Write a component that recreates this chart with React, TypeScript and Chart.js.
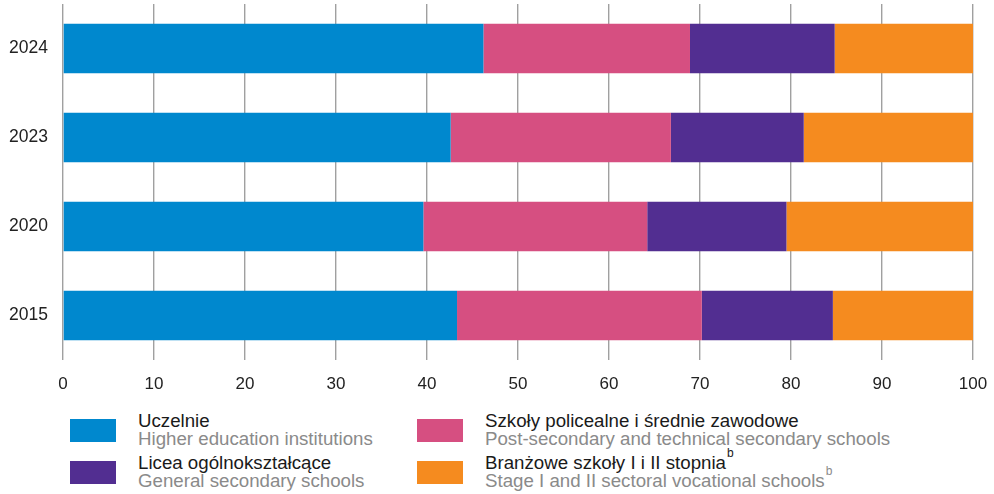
import React, { useEffect, useRef } from "react";
import { Chart, registerables } from "chart.js";

Chart.register(...registerables);

const years = ["2024", "2023", "2020", "2015"];
const uczelnie = [46.2, 42.6, 39.6, 43.3];
const policealne = [22.7, 24.2, 24.6, 26.9];
const licea = [15.9, 14.6, 15.3, 14.4];
const branzowe = [15.2, 18.6, 20.5, 15.4];
const xTicks = [0, 10, 20, 30, 40, 50, 60, 70, 80, 90, 100];

const seriesNames = [
  { pl: "Uczelnie", en: "Higher education institutions", sup: false },
  { pl: "Szkoły policealne i średnie zawodowe", en: "Post-secondary and technical secondary schools", sup: false },
  { pl: "Licea ogólnokształcące", en: "General secondary schools", sup: false },
  { pl: "Branżowe szkoły I i II stopnia", en: "Stage I and II sectoral vocational schools", sup: true },
];
const colors = ["#0088CE", "#D64F81", "#522E91", "#F58B1F"];

const FONT = "'Liberation Sans', Arial, Helvetica, sans-serif";

const supStyle: React.CSSProperties = {
  fontSize: 12,
  verticalAlign: "top",
  position: "relative",
  top: -7,
  marginLeft: 1,
  lineHeight: "12px",
};

function LegendItem({ idx, left, top }: { idx: number; left: number; top: number }) {
  const s = seriesNames[idx];
  return (
    <>
      <div
        style={{
          position: "absolute",
          left,
          top: top + 7,
          width: 46,
          height: 23,
          background: colors[idx],
        }}
      />
      <div
        style={{
          position: "absolute",
          left: left + 68,
          top,
          fontFamily: FONT,
          fontSize: 18.7,
          lineHeight: "18px",
          whiteSpace: "nowrap",
        }}
      >
        <div style={{ color: "#1a1a1a" }}>
          {s.pl}
          {s.sup && <sup style={supStyle}>b</sup>}
        </div>
        <div style={{ color: "#8a8a8a" }}>
          {s.en}
          {s.sup && <sup style={supStyle}>b</sup>}
        </div>
      </div>
    </>
  );
}

export default function App() {
  const ref = useRef<HTMLCanvasElement | null>(null);

  useEffect(() => {
    if (!ref.current) return;
    const data = [uczelnie, policealne, licea, branzowe];
    const chart = new Chart(ref.current, {
      type: "bar",
      data: {
        labels: years,
        datasets: seriesNames.map((s, i) => ({
          label: s.pl,
          data: data[i],
          backgroundColor: colors[i],
          borderWidth: 0,
          barPercentage: 0.556,
          categoryPercentage: 1,
        })),
      },
      options: {
        indexAxis: "y",
        animation: false,
        responsive: false,
        devicePixelRatio: 1,
        layout: { padding: { left: 0, right: 21, top: 4, bottom: 0 } },
        plugins: { legend: { display: false }, tooltip: { enabled: false } },
        scales: {
          x: {
            stacked: true,
            min: 0,
            max: 100,
            afterBuildTicks: (scale: any) => {
              scale.ticks = xTicks.map((v) => ({ value: v }));
            },
            afterFit: (scale: any) => {
              scale.height = 40;
              scale.paddingLeft = 0;
              scale.paddingRight = 0;
            },
            grid: { color: "#a0a0a0", lineWidth: 1.4, drawTicks: false },
            border: { display: false },
            ticks: {
              padding: 14,
              color: "#222222",
              font: { family: FONT, size: 17 },
            },
          },
          y: {
            stacked: true,
            afterFit: (scale: any) => {
              scale.width = 63;
              scale.paddingTop = 0;
              scale.paddingBottom = 0;
            },
            grid: { display: false, drawTicks: false },
            border: { display: false },
            ticks: {
              padding: 15,
              color: "#222222",
              font: { family: FONT, size: 17.5 },
            },
          },
        },
      },
    });
    return () => chart.destroy();
  }, []);

  return (
    <div style={{ position: "fixed", left: 0, top: 0, width: 994, height: 494, background: "#fff" }}>
      <canvas ref={ref} width={994} height={400} style={{ position: "absolute", left: 0, top: 0, width: 994, height: 400 }} />
      <LegendItem idx={0} left={70} top={412} />
      <LegendItem idx={1} left={417} top={412} />
      <LegendItem idx={2} left={70} top={454} />
      <LegendItem idx={3} left={417} top={454} />
    </div>
  );
}
